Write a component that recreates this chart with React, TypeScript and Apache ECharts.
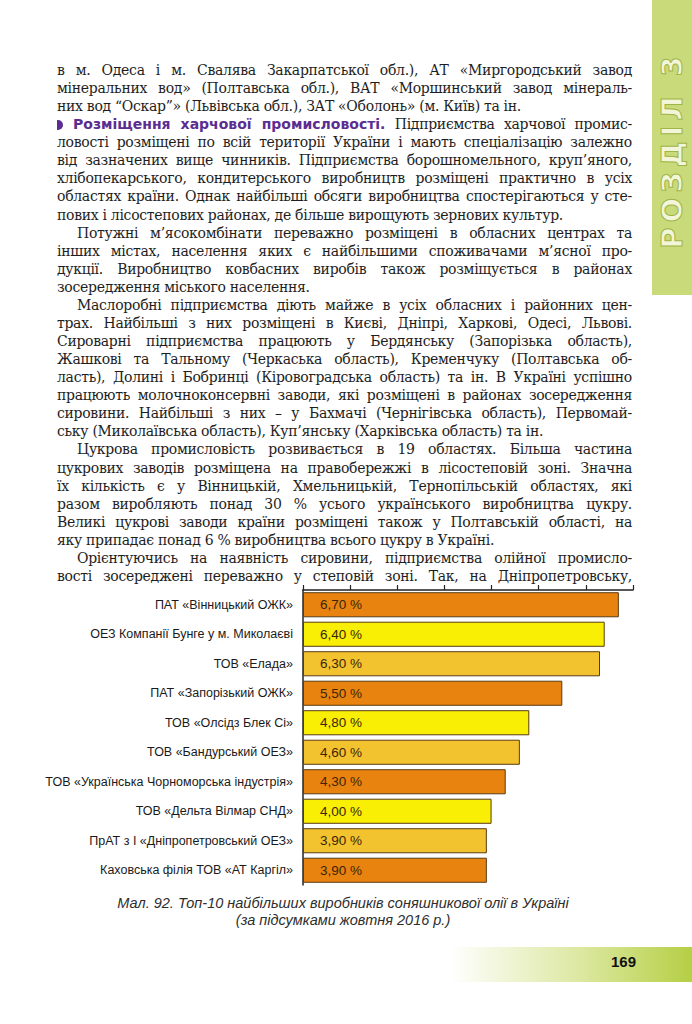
import React, { useEffect, useRef } from "react";
import * as echarts from "echarts";

const companies = [
  "ПАТ «Вінницький ОЖК»",
  "ОЕЗ Компанії Бунге у м. Миколаєві",
  "ТОВ «Елада»",
  "ПАТ «Запорізький ОЖК»",
  "ТОВ «Олсідз Блек Сі»",
  "ТОВ «Бандурський ОЕЗ»",
  "ТОВ «Українська Чорноморська індустрія»",
  "ТОВ «Дельта Вілмар СНД»",
  "ПрАТ з І «Дніпропетровський ОЕЗ»",
  "Каховська філія ТОВ «АТ Каргіл»",
];
const shares = [6.7, 6.4, 6.3, 5.5, 4.8, 4.6, 4.3, 4.0, 3.9, 3.9];
const barColors = [
  "#e9830f", "#f8ef05", "#f3c22f", "#e9830f", "#f8ef05",
  "#f3c22f", "#e9830f", "#f8ef05", "#f3c22f", "#e9830f",
];
const axisMax = 7;
const axisStep = 1;
const captionLines = [
  "Мал. 92. Топ-10 найбільших виробників соняшникової олії в Україні",
  "(за підсумками жовтня 2016 р.)",
];
const pageNumber = "169";
const sectionLabel = "РОЗДІЛ 3";
const headingText = "Розміщення харчової промисловості.";

type Line = { t: string; indent?: boolean; last?: boolean; head?: boolean };
const bodyLines: Line[] = [
  { t: "в м. Одеса і м. Свалява Закарпатської обл.), АТ «Миргородський завод" },
  { t: "мінеральних вод» (Полтавська обл.), ВАТ «Моршинський завод мінераль-" },
  { t: "них вод “Оскар”» (Львівська обл.), ЗАТ «Оболонь» (м. Київ) та ін.", last: true },
  { t: " Підприємства харчової промис-", head: true },
  { t: "ловості розміщені по всій території України і мають спеціалізацію залежно" },
  { t: "від зазначених вище чинників. Підприємства борошномельного, круп’яного," },
  { t: "хлібопекарського, кондитерського виробництв розміщені практично в усіх" },
  { t: "областях країни. Однак найбільші обсяги виробництва спостерігаються у сте-" },
  { t: "пових і лісостепових районах, де більше вирощують зернових культур.", last: true },
  { t: "Потужні м’ясокомбінати переважно розміщені в обласних центрах та", indent: true },
  { t: "інших містах, населення яких є найбільшими споживачами м’ясної про-" },
  { t: "дукції. Виробництво ковбасних виробів також розміщується в районах" },
  { t: "зосередження міського населення.", last: true },
  { t: "Маслоробні підприємства діють майже в усіх обласних і районних цен-", indent: true },
  { t: "трах. Найбільші з них розміщені в Києві, Дніпрі, Харкові, Одесі, Львові." },
  { t: "Сироварні підприємства працюють у Бердянську (Запорізька область)," },
  { t: "Жашкові та Тальному (Черкаська область), Кременчуку (Полтавська об-" },
  { t: "ласть), Долині і Бобринці (Кіровоградська область) та ін. В Україні успішно" },
  { t: "працюють молочноконсервні заводи, які розміщені в районах зосередження" },
  { t: "сировини. Найбільші з них – у Бахмачі (Чернігівська область), Первомай-" },
  { t: "ську (Миколаївська область), Куп’янську (Харківська область) та ін.", last: true },
  { t: "Цукрова промисловість розвивається в 19 областях. Більша частина", indent: true },
  { t: "цукрових заводів розміщена на правобережжі в лісостеповій зоні. Значна" },
  { t: "їх кількість є у Вінницькій, Хмельницькій, Тернопільській областях, які" },
  { t: "разом виробляють понад 30 % усього українського виробництва цукру." },
  { t: "Великі цукрові заводи країни розміщені також у Полтавській області, на" },
  { t: "яку припадає понад 6 % виробництва всього цукру в Україні.", last: true },
  { t: "Орієнтуючись на наявність сировини, підприємства олійної промисло-", indent: true },
  { t: "вості зосереджені переважно у степовій зоні. Так, на Дніпропетровську," },
];

const SANS = "'Liberation Sans', Arial, sans-serif";

export default function App() {
  const ref = useRef<HTMLDivElement>(null);

  useEffect(() => {
    if (!ref.current) return;
    const chart = echarts.init(ref.current, undefined, { renderer: "svg" });
    chart.setOption({
      animation: false,
      grid: { left: 303, top: 590, width: 330, height: 295, containLabel: false, outerBoundsMode: "none" },
      xAxis: {
        type: "value",
        position: "top",
        min: 0,
        max: axisMax,
        interval: axisStep,
        axisLine: { show: true, onZero: false, lineStyle: { color: "#222", width: 1.5 } },
        axisTick: { show: true, length: 5, lineStyle: { color: "#222", width: 1.2 } },
        axisLabel: { show: false },
        splitLine: { show: false },
      },
      yAxis: {
        type: "category",
        inverse: true,
        data: companies,
        axisLine: { show: true, onZero: false, lineStyle: { color: "#222", width: 1.5 } },
        axisTick: { show: false },
        axisLabel: { margin: 10, fontSize: 12.5, color: "#1a1a1a", fontFamily: SANS },
      },
      series: [
        {
          type: "bar",
          data: shares.map((v, i) => ({ value: v, itemStyle: { color: barColors[i] } })),
          barCategoryGap: "15%",
          itemStyle: { borderColor: "#5a3b12", borderWidth: 1 },
          label: {
            show: true,
            position: "insideLeft",
            distance: 17,
            formatter: (p: any) => Number(p.value).toFixed(2).replace(".", ",") + " %",
            fontSize: 13.5,
            color: "#3b2508",
            fontFamily: SANS,
          },
        },
      ],
      graphic: captionLines.map((t, i) => ({
        type: "text",
        x: 343,
        y: 903 + i * 17,
        style: {
          text: t,
          fill: "#2e2e2e",
          fontSize: 14.5,
          fontStyle: "italic",
          fontFamily: SANS,
          align: "center",
          verticalAlign: "middle",
          textAlign: "center",
          textVerticalAlign: "middle",
        },
      })),
    });
    return () => chart.dispose();
  }, []);

  return (
    <div style={{ position: "absolute", left: 0, top: 0, width: 692, height: 1024, background: "#fff", overflow: "hidden" }}>
      <div ref={ref} style={{ position: "absolute", left: 0, top: 0, width: 692, height: 1024 }} />
      {/* side band */}
      <div style={{ position: "absolute", left: 652, top: 0, width: 40, height: 295, background: "#c9da7a" }} />
      <div
        style={{
          position: "absolute",
          left: 672,
          top: 150,
          transform: "translate(-50%, -50%) rotate(-90deg)",
          whiteSpace: "nowrap",
          fontFamily: "'DejaVu Sans', sans-serif",
          fontWeight: 700,
          fontSize: 29,
          letterSpacing: 5,
          color: "#f2f5d8",
          WebkitTextStroke: "1px #9fb546",
        }}
      >
        {sectionLabel}
      </div>
      {/* body text */}
      {bodyLines.map((ln, i) => {
        const left = ln.indent ? 77 : 57;
        return (
          <div
            key={i}
            style={{
              position: "absolute",
              left,
              width: 632 - left,
              top: 70 + i * 18.07 - 9,
              height: 18,
              lineHeight: "18px",
              fontFamily: "'DejaVu Serif', serif",
              fontSize: 14,
              letterSpacing: -0.3,
              color: "#1e1e1e",
              textAlign: "justify",
              textAlignLast: ln.last ? "left" : "justify",
            }}
          >
            {ln.head ? (
              <>
                <span
                  style={{
                    display: "inline-block",
                    width: 6,
                    height: 10,
                    background: "#5b2d91",
                    borderRadius: "0 6px 6px 0",
                    marginRight: 10,
                    verticalAlign: "middle",
                  }}
                />
                <span style={{ fontFamily: "'DejaVu Sans', sans-serif", fontWeight: 700, fontSize: 14, letterSpacing: 0, color: "#5b2d91" }}>
                  {headingText}
                </span>
                {ln.t}
              </>
            ) : (
              ln.t
            )}
          </div>
        );
      })}
      {/* page number band */}
      <div
        style={{
          position: "absolute",
          left: 450,
          top: 947,
          width: 242,
          height: 35,
          background: "linear-gradient(to right, rgba(190,212,80,0), rgba(190,212,80,0.55) 55%, #b5cf45)",
        }}
      />
      <div
        style={{
          position: "absolute",
          left: 611,
          top: 953,
          fontFamily: SANS,
          fontWeight: 700,
          fontSize: 15,
          color: "#111",
        }}
      >
        {pageNumber}
      </div>
    </div>
  );
}
